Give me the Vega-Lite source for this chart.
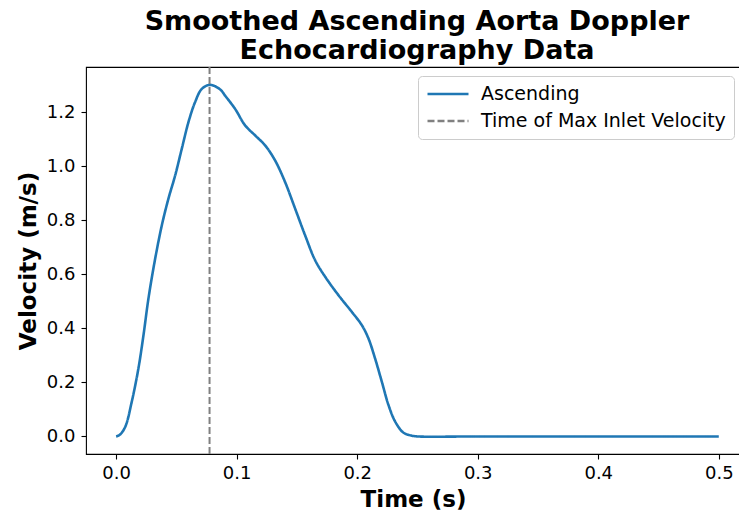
{
  "$schema": "https://vega.github.io/schema/vega-lite/v6.json",
  "width": 654,
  "height": 387,
  "autosize": {"type": "none"},
  "padding": {"left": 86, "top": 67, "right": 0, "bottom": 61},
  "config": {
    "font": "DejaVu Sans",
    "view": {"stroke": "#000000", "strokeWidth": 1.1},
    "axis": {"grid": false, "domain": false, "tickColor": "#000000", "tickSize": 5, "tickWidth": 1.1, "labelColor": "#000000", "titleColor": "#000000", "labelFontSize": 18, "titleFontSize": 23, "titleFontWeight": "bold", "labelFont": "DejaVu Sans", "titleFont": "DejaVu Sans"},
    "legend": {"labelFont": "DejaVu Sans"}
  },
  "title": {
    "text": ["Smoothed Ascending Aorta Doppler", "Echocardiography Data"],
    "fontSize": 27,
    "fontWeight": "bold",
    "lineHeight": 29,
    "color": "#000000",
    "anchor": "middle",
    "dx": 4,
    "offset": 1
  },
  "layer": [
    {
      "data": {"values": [
        {"series": "Ascending", "t": 0.0, "v": 0.0},
        {"series": "Ascending", "t": 0.003, "v": 0.006},
        {"series": "Ascending", "t": 0.0075, "v": 0.035},
        {"series": "Ascending", "t": 0.013, "v": 0.129},
        {"series": "Ascending", "t": 0.0185, "v": 0.252},
        {"series": "Ascending", "t": 0.0227, "v": 0.375},
        {"series": "Ascending", "t": 0.0268, "v": 0.51},
        {"series": "Ascending", "t": 0.0324, "v": 0.658},
        {"series": "Ascending", "t": 0.0379, "v": 0.781},
        {"series": "Ascending", "t": 0.0434, "v": 0.88},
        {"series": "Ascending", "t": 0.049, "v": 0.966},
        {"series": "Ascending", "t": 0.0545, "v": 1.065},
        {"series": "Ascending", "t": 0.06, "v": 1.163},
        {"series": "Ascending", "t": 0.0655, "v": 1.237},
        {"series": "Ascending", "t": 0.0711, "v": 1.286},
        {"series": "Ascending", "t": 0.078, "v": 1.301},
        {"series": "Ascending", "t": 0.0863, "v": 1.284},
        {"series": "Ascending", "t": 0.0904, "v": 1.261},
        {"series": "Ascending", "t": 0.0987, "v": 1.212},
        {"series": "Ascending", "t": 0.107, "v": 1.151},
        {"series": "Ascending", "t": 0.1153, "v": 1.114},
        {"series": "Ascending", "t": 0.1236, "v": 1.077},
        {"series": "Ascending", "t": 0.1319, "v": 1.021},
        {"series": "Ascending", "t": 0.1402, "v": 0.941},
        {"series": "Ascending", "t": 0.1485, "v": 0.843},
        {"series": "Ascending", "t": 0.1568, "v": 0.744},
        {"series": "Ascending", "t": 0.1651, "v": 0.652},
        {"series": "Ascending", "t": 0.1734, "v": 0.591},
        {"series": "Ascending", "t": 0.1844, "v": 0.523},
        {"series": "Ascending", "t": 0.1955, "v": 0.461},
        {"series": "Ascending", "t": 0.2038, "v": 0.412},
        {"series": "Ascending", "t": 0.2093, "v": 0.363},
        {"series": "Ascending", "t": 0.2148, "v": 0.289},
        {"series": "Ascending", "t": 0.2204, "v": 0.203},
        {"series": "Ascending", "t": 0.2259, "v": 0.117},
        {"series": "Ascending", "t": 0.2315, "v": 0.055},
        {"series": "Ascending", "t": 0.2384, "v": 0.014},
        {"series": "Ascending", "t": 0.2453, "v": 0.003},
        {"series": "Ascending", "t": 0.25, "v": 0.0},
        {"series": "Ascending", "t": 0.3, "v": 0.0},
        {"series": "Ascending", "t": 0.35, "v": 0.0},
        {"series": "Ascending", "t": 0.4, "v": 0.0},
        {"series": "Ascending", "t": 0.45, "v": 0.0},
        {"series": "Ascending", "t": 0.5, "v": 0.0}
      ]},
      "mark": {"type": "line", "strokeWidth": 2.6, "interpolate": "catmull-rom"},
      "encoding": {
        "x": {"field": "t", "type": "quantitative", "title": "Time (s)",
              "scale": {"domain": [-0.025, 0.5176], "nice": false, "zero": false},
              "axis": {"values": [0, 0.1, 0.2, 0.3, 0.4, 0.5], "format": ".1f", "labelPadding": 5, "titlePadding": 6}},
        "y": {"field": "v", "type": "quantitative", "title": "Velocity (m/s)",
              "scale": {"domain": [-0.065, 1.367], "nice": false, "zero": false},
              "axis": {"values": [0, 0.2, 0.4, 0.6, 0.8, 1.0, 1.2], "format": ".1f", "labelPadding": 6, "titlePadding": 6}},
        "color": {"field": "series", "type": "nominal", "title": null,
                  "scale": {"domain": ["Ascending", "Time of Max Inlet Velocity"], "range": ["#1f77b4", "#808080"]},
                  "legend": {"orient": "none", "legendX": 332, "legendY": 9, "symbolType": "stroke", "symbolSize": 1681, "symbolStrokeWidth": 2.4, "labelFontSize": 19, "labelColor": "#000000", "labelOffset": 11, "labelLimit": 400, "clipHeight": 20, "padding": 8, "rowPadding": 7, "fillColor": "#ffffff", "strokeColor": "#cccccc", "cornerRadius": 4}},
        "strokeDash": {"field": "series", "type": "nominal", "title": null,
                  "scale": {"domain": ["Ascending", "Time of Max Inlet Velocity"], "range": [[1, 0], [7, 3]]}}
      }
    },
    {
      "data": {"values": [{"series": "Time of Max Inlet Velocity", "t": 0.0775}]},
      "mark": {"type": "rule", "strokeWidth": 2},
      "encoding": {
        "x": {"field": "t", "type": "quantitative"},
        "color": {"field": "series", "type": "nominal", "title": null},
        "strokeDash": {"field": "series", "type": "nominal", "title": null}
      }
    }
  ]
}
